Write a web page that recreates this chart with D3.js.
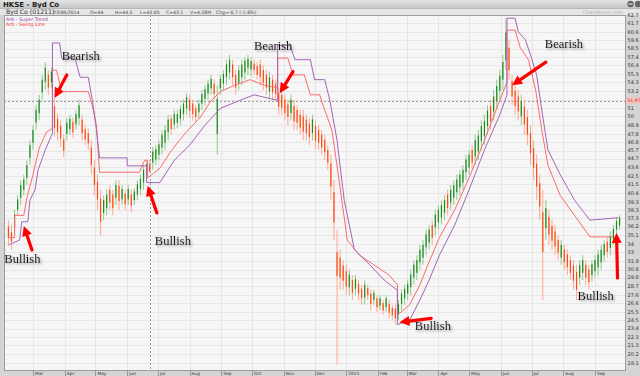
<!DOCTYPE html>
<html><head><meta charset="utf-8">
<script src="https://cdn.jsdelivr.net/npm/d3@7"></script>
<style>body{margin:0;background:#d6d6d6;} svg{display:block;font-family:"DejaVu Sans",Arial,sans-serif;}</style>
</head><body><svg id="c" width="640" height="376"></svg>
<script>
// ---------- DATA ----------
const barHigh = [37.0,36.4,38.3,40.1,42.0,42.7,44.5,47.0,48.9,51.4,52.7,55.2,56.8,55.8,56.1,52.3,50.4,49.5,47.7,49.8,50.2,49.8,50.8,52.1,50.2,48.9,48.5,47.0,44.5,42.7,40.8,40.1,40.8,41.4,40.8,42.0,42.0,41.4,40.8,41.4,40.8,41.0,42.0,42.7,43.9,44.5,44.5,46.2,46.4,47.0,48.3,48.9,50.2,50.2,50.8,50.8,51.4,52.1,52.9,52.7,52.1,51.4,52.1,53.3,53.9,54.6,55.2,54.6,53.9,55.2,55.8,57.1,57.7,57.1,55.8,56.4,57.1,57.4,57.7,57.4,57.1,56.8,57.1,56.4,55.8,55.6,55.2,54.6,53.6,53.3,52.7,52.1,52.7,52.1,51.4,50.8,50.8,50.2,49.8,50.2,49.5,48.9,48.3,47.7,46.4,45.2,42.0,35.8,33.3,32.0,31.4,30.8,30.1,30.1,29.5,28.9,29.5,28.9,28.3,28.3,27.6,27.6,27.0,27.6,27.0,26.4,26.4,27.0,28.3,28.9,29.5,30.8,32.0,32.6,33.9,34.5,35.8,36.4,37.0,38.3,38.9,39.5,40.1,40.8,41.4,42.0,42.7,43.3,43.9,45.2,45.8,46.4,47.7,48.3,49.5,50.2,51.4,52.1,53.3,54.6,55.8,57.7,62.3,59.6,55.2,53.9,53.3,52.7,52.1,50.8,48.9,47.0,45.2,42.7,40.8,39.5,38.3,37.0,36.4,35.1,34.5,33.9,33.3,32.6,32.0,31.4,32.0,32.6,32.0,31.4,32.0,32.6,33.3,33.9,34.5,34.8,35.6,36.4,37.4,37.6];
const barLow = [33.9,33.3,35.1,37.6,38.9,40.1,41.4,43.9,45.8,48.3,49.5,52.1,53.3,52.7,53.6,47.4,47.0,46.2,44.9,47.0,47.7,47.3,48.3,48.9,47.0,46.4,45.8,42.7,40.1,38.3,35.1,37.0,37.6,38.3,37.6,38.9,38.3,38.9,38.3,38.9,38.0,38.9,39.5,40.1,40.8,42.0,43.05,43.3,43.9,44.5,45.2,45.8,47.0,47.7,48.3,48.5,48.9,49.5,50.2,49.8,49.5,49.3,49.8,50.8,51.4,52.1,52.7,52.1,45.2,52.7,53.3,53.9,54.6,53.9,52.7,53.3,53.9,54.6,55.2,55.0,55.2,54.6,53.9,53.3,52.7,52.1,52.1,52.1,50.2,50.2,49.5,48.9,49.5,48.3,48.3,47.7,47.0,47.0,46.4,47.0,45.8,45.8,45.2,44.5,43.3,39.5,34.5,18.9,28.3,28.3,27.6,27.6,27.0,27.6,27.0,26.4,26.4,27.0,25.7,26.4,25.5,25.7,25.1,25.5,24.7,24.5,23.9,24.5,25.7,26.4,27.0,27.6,28.9,29.5,30.8,31.4,32.6,33.3,33.9,35.1,35.8,36.4,37.0,37.6,38.3,38.9,39.5,40.1,40.8,42.0,42.7,43.3,43.9,44.5,45.8,46.4,47.7,48.3,49.5,50.8,52.1,53.3,55.8,54.6,51.4,50.2,49.5,48.9,47.7,46.4,43.9,42.0,39.5,37.0,27.0,34.5,33.9,33.3,32.6,32.0,31.4,30.8,30.1,29.5,28.3,27.0,28.9,29.5,28.9,28.3,29.3,29.8,30.1,30.8,31.8,32.3,32.6,33.9,35.1,35.8];
const barOpen = [36.2,35.5,36.0,38.3,39.8,40.8,42.3,44.8,46.7,49.2,50.4,53.0,54.3,55.2,54.3,51.3,49.7,48.8,47.1,47.8,48.4,49.3,49.0,49.8,49.6,48.4,47.9,46.1,43.6,41.8,39.7,37.9,38.5,40.8,40.2,39.8,41.3,39.6,40.3,39.6,40.2,39.5,40.2,40.9,41.7,42.8,44.0,44.2,44.6,45.2,46.1,46.7,48.0,49.7,49.0,49.2,49.7,50.3,51.0,52.1,51.6,51.0,50.5,51.6,52.2,52.9,53.5,54.1,47.8,53.5,54.1,54.9,55.5,56.5,55.2,54.2,54.9,55.5,56.1,55.9,56.6,56.3,56.5,55.8,55.2,53.1,54.6,54.1,52.9,52.7,52.1,51.5,50.4,51.3,50.8,50.2,50.0,49.6,49.1,47.9,48.8,48.3,47.7,47.1,45.8,44.1,40.5,33.0,32.3,31.3,30.6,28.6,29.5,28.4,29.0,28.4,27.3,28.5,27.8,27.0,27.2,26.3,26.6,26.1,26.5,26.0,25.9,25.3,26.5,27.2,27.8,28.6,29.8,30.4,31.7,32.3,33.6,34.2,36.4,36.1,36.7,37.3,37.9,40.2,39.2,39.8,40.5,41.1,41.7,43.0,43.6,45.8,45.0,45.6,46.9,47.5,48.8,51.3,50.6,51.9,53.2,54.6,57.0,58.6,54.4,53.2,52.5,50.0,51.2,49.9,47.9,46.0,44.1,41.6,38.0,36.0,37.4,36.3,35.6,34.5,32.3,33.3,32.7,32.0,31.3,30.5,29.8,30.4,31.4,30.8,30.1,30.6,31.1,31.7,32.6,34.3,33.5,34.6,35.8,36.3];
const barClose = [34.8,34.3,37.7,39.6,41.4,42.1,43.9,46.4,48.3,50.8,52.1,54.6,56.1,53.6,55.6,48.5,48.0,47.2,45.7,49.2,49.7,48.0,50.3,51.4,47.9,47.1,46.6,43.9,41.4,39.6,36.8,39.5,40.2,39.2,38.5,41.4,39.4,40.9,39.0,40.9,38.8,40.6,41.5,42.2,43.3,44.0,43.1,45.6,45.9,46.5,47.7,48.3,49.6,48.4,50.3,50.3,50.9,51.6,52.4,50.7,50.3,49.9,51.6,52.8,53.4,54.1,54.7,52.8,52.2,54.7,55.3,56.5,57.1,54.9,53.6,55.8,56.5,57.0,57.2,56.9,55.8,55.2,54.9,54.2,53.6,54.9,53.0,52.8,51.2,51.1,50.4,49.9,52.1,49.4,49.2,48.6,48.1,47.9,47.4,49.6,46.9,46.7,46.1,45.5,44.2,41.2,36.7,30.0,29.8,29.4,28.7,30.2,27.9,29.6,27.8,27.2,28.9,27.6,26.5,27.9,26.1,27.2,25.7,27.2,25.4,25.1,24.7,26.5,27.8,28.4,29.0,30.2,31.4,32.0,33.3,33.9,35.2,35.8,34.8,37.7,38.3,38.9,39.5,38.5,40.8,41.4,42.1,42.7,43.3,44.6,45.2,44.2,47.0,47.6,48.8,49.4,50.7,49.4,52.5,53.8,55.1,56.8,60.5,55.8,52.5,51.3,50.6,51.9,49.0,47.7,45.4,43.5,41.2,38.7,33.0,38.5,35.2,34.4,33.7,32.9,33.9,31.7,31.1,30.4,29.4,28.3,31.4,32.0,29.8,29.2,31.5,32.0,32.7,33.3,34.0,33.0,35.0,35.9,36.9,37.3];

const stDates = ["2014-02-05","2014-02-16","2014-02-18","2014-02-24","2014-02-26","2014-03-03","2014-03-06","2014-03-13","2014-03-20","2014-03-20","2014-03-27","2014-03-29","2014-04-11","2014-04-16","2014-04-24","2014-04-28","2014-05-02","2014-05-05","2014-06-01","2014-06-01","2014-06-20","2014-06-20","2014-07-03","2014-07-17","2014-08-01","2014-08-16","2014-08-31","2014-09-19","2014-10-03","2014-10-26","2014-10-26","2014-11-07","2014-11-12","2014-11-27","2014-12-01","2014-12-11","2014-12-16","2014-12-23","2014-12-30","2015-01-09","2015-01-24","2015-02-07","2015-02-20","2015-02-20","2015-03-04","2015-03-14","2015-03-23","2015-04-02","2015-04-17","2015-05-01","2015-05-16","2015-05-31","2015-06-07","2015-06-07","2015-06-15","2015-06-18","2015-06-25","2015-06-30","2015-07-06","2015-07-11","2015-07-17","2015-07-29","2015-08-12","2015-08-27","2015-09-24"];
const stValues = [33.9,34.5,36.8,36.8,39.5,40.8,43.3,45.8,47.9,59.2,59.2,57.3,57.3,54.9,54.9,52.0,48.3,44.8,44.8,43.8,43.8,41.7,41.7,44.5,46.4,48.9,51.0,52.0,52.7,52.0,58.9,58.9,57.1,57.1,54.6,54.6,52.0,47.0,39.5,33.3,31.4,29.5,28.2,23.9,24.5,27.0,29.5,32.6,36.4,40.8,45.8,50.2,52.7,62.3,62.3,60.6,59.6,57.7,55.2,50.8,45.8,42.7,39.5,37.0,37.3];

const slDates = ["2014-02-05","2014-02-11","2014-02-11","2014-02-20","2014-02-23","2014-03-01","2014-03-07","2014-03-14","2014-03-20","2014-03-20","2014-03-24","2014-03-29","2014-04-24","2014-04-29","2014-05-02","2014-05-05","2014-06-13","2014-06-18","2014-06-21","2014-06-21","2014-07-03","2014-07-13","2014-07-22","2014-08-01","2014-08-11","2014-08-21","2014-08-31","2014-09-14","2014-09-29","2014-10-13","2014-10-26","2014-10-26","2014-11-05","2014-11-10","2014-11-21","2014-11-27","2014-12-06","2014-12-11","2014-12-18","2014-12-25","2015-01-02","2015-01-14","2015-01-28","2015-02-12","2015-02-20","2015-02-20","2015-03-04","2015-03-14","2015-03-23","2015-04-02","2015-04-17","2015-05-01","2015-05-16","2015-05-31","2015-06-07","2015-06-07","2015-06-15","2015-06-20","2015-06-28","2015-07-05","2015-07-11","2015-07-17","2015-07-29","2015-08-12","2015-08-27","2015-09-18"];
const slValues = [34.8,34.8,37.6,37.6,39.8,42.7,46.0,48.0,48.5,55.8,55.8,53.1,53.1,50.8,48.9,43.0,43.0,44.5,44.5,42.3,43.5,45.5,47.0,48.5,49.8,51.8,53.1,53.9,54.6,53.9,53.6,57.3,57.3,55.2,55.2,52.7,52.7,50.8,48.3,42.0,34.5,32.6,31.4,30.1,28.9,25.1,26.4,28.9,31.8,34.8,38.3,42.3,47.0,52.0,54.3,60.8,60.8,58.6,57.1,53.3,48.3,43.9,40.1,37.6,34.9,34.9];

const yTickValues = [19.1,20.2,21.3,22.3,23.4,24.5,25.5,26.6,27.6,28.7,29.8,30.8,31.9,33,34,35.1,36.2,37.3,38.3,39.3,40.4,41.5,42.5,43.6,44.7,45.7,46.8,47.8,48.9,50,51,52.1,53.2,54.3,55.3,56.4,57.4,58.5,59.6,60.6,61.7,62.7];
const monthNames = ["2015","Feb","Mar","Apr","May","Jun","Jul","Aug","Sep","Oct","Nov","Dec"];

const cursorDate = "2014-06-23";
const cursorPrice = 51.97;

const annoText = ["Bearish","Bullish","Bullish","Bearish","Bullish","Bearish","Bullish"];
const annoDates = ["2014-03-29","2014-02-01","2014-06-28","2014-10-03","2015-03-09","2015-07-14","2015-08-15"];
const annoPrices = [57.06,31.63,33.9,58.3,23.2,58.6,27.0];
const arrowFromDates = ["2014-04-03","2014-02-28","2014-06-30","2014-11-10","2015-03-25","2015-07-15","2015-09-23"];
const arrowFromPrices = [55.18,33.26,37.9,55.6,24.7,56.8,29.75];
const arrowToDates = ["2014-03-22","2014-02-20","2014-06-21","2014-10-28","2015-02-22","2015-06-12","2015-09-22"];
const arrowToPrices = [52.3,36.27,41.3,52.9,24.2,53.9,35.4];

// ---------- DRAW ----------
const parse = d3.timeParse("%Y-%m-%d");
const svg = d3.select("#c");
const W = 640, H = 376;
const plot = {l: 4, r: 626, t: 15, b: 371};

const x = d3.scaleTime().domain([new Date(2014,2,1), new Date(2015,8,1)]).range([33, 595]);
const y = d3.scaleLinear().domain([19.1, 62.7]).range([363, 15]);

const barDates = d3.timeDay.range(new Date(2014,1,5), new Date(2015,11,1), 3).slice(0, barHigh.length);

const defs = svg.append("defs");
const f = defs.append("filter").attr("id","sh").attr("x","-10%").attr("y","-30%").attr("width","130%").attr("height","170%");
f.append("feDropShadow").attr("dx",1.5).attr("dy",1.5).attr("stdDeviation",1).attr("flood-color","#777").attr("flood-opacity",0.75);
defs.append("clipPath").attr("id","clip").append("rect").attr("x",plot.l).attr("y",plot.t).attr("width",plot.r-plot.l).attr("height",plot.b-plot.t);
const g1 = defs.append("linearGradient").attr("id","tb").attr("x1",0).attr("y1",0).attr("x2",0).attr("y2",1);
g1.append("stop").attr("offset",0).attr("stop-color","#e4e4e4");
g1.append("stop").attr("offset",1).attr("stop-color","#c6c6c6");

// background frame
svg.append("rect").attr("width",W).attr("height",H).attr("fill","#d4d4d4");
// title bar
svg.append("rect").attr("x",0).attr("y",0).attr("width",W).attr("height",8).attr("fill","url(#tb)");
svg.append("text").attr("x",3).attr("y",6.6).attr("font-size",7).attr("font-weight","bold").attr("fill","#222").text("HKSE - Byd Co");
svg.append("circle").attr("cx",630.5).attr("cy",4).attr("r",3.2).attr("fill","#666");
svg.append("rect").attr("x",628.5).attr("y",3.4).attr("width",4).attr("height",1.2).attr("fill","#ddd");
svg.append("circle").attr("cx",638).attr("cy",4).attr("r",3.2).attr("fill","#666");
// info row
svg.append("rect").attr("x",0).attr("y",8).attr("width",W).attr("height",7).attr("fill","#e6e6e6");
svg.append("line").attr("x1",0).attr("x2",W).attr("y1",8.5).attr("y2",8.5).attr("stroke","#b8b8b8");
svg.append("text").attr("x",6).attr("y",14.3).attr("font-size",6.2).attr("fill","#333").text("Byd Co (01211)");
const info = [["23/06/2014",53],["O=44",90],["H=44.5",115],["L=43.05",140],["C=43.1",166],["V=4.28M",190],["Chg=-0.7 (-1.6%)",216]];
svg.selectAll("text.info").data(info).join("text").attr("class","info")
  .attr("x",d=>d[1]).attr("y",14).attr("font-size",4.6).attr("fill","#444").text(d=>d[0]);
svg.append("text").attr("x",583).attr("y",13.8).attr("font-size",4.8).attr("fill","#b0b0b0").text("ChartNexus.com");

// plot area
svg.append("rect").attr("x",plot.l).attr("y",plot.t).attr("width",plot.r-plot.l).attr("height",plot.b-plot.t).attr("fill","#f6f6f6");
const grid = svg.append("g");
grid.selectAll("line.h").data(yTickValues).join("line").attr("class","h")
  .attr("x1",plot.l).attr("x2",plot.r).attr("y1",d=>Math.round(y(d))+0.5).attr("y2",d=>Math.round(y(d))+0.5)
  .attr("stroke","#e6e6e6").attr("stroke-width",1);
const months = d3.timeMonth.range(new Date(2014,2,1), new Date(2015,9,1));
grid.selectAll("line.v").data(months).join("line").attr("class","v")
  .attr("x1",d=>Math.round(x(d))+0.5).attr("x2",d=>Math.round(x(d))+0.5).attr("y1",plot.t).attr("y2",plot.b)
  .attr("stroke","#e6e6e6").attr("stroke-width",1);

// crosshair
svg.append("line").attr("x1",Math.round(x(parse(cursorDate)))+0.5).attr("x2",Math.round(x(parse(cursorDate)))+0.5)
  .attr("y1",plot.t).attr("y2",plot.b).attr("stroke","#9a9a9a").attr("stroke-dasharray","2,2");
svg.append("line").attr("x1",plot.l).attr("x2",plot.r).attr("y1",Math.round(y(cursorPrice))+0.5).attr("y2",Math.round(y(cursorPrice))+0.5)
  .attr("stroke","#9a9a9a").attr("stroke-dasharray","2,2");

// bars
const bars = svg.append("g").attr("clip-path","url(#clip)");
const barData = barDates.map((d,i)=>({d, h:barHigh[i], l:barLow[i], o:barOpen[i], c:barClose[i]}));
bars.selectAll("line.w").data(barData).join("line").attr("class","w")
  .attr("x1",d=>x(d.d)).attr("x2",d=>x(d.d)).attr("y1",d=>y(d.h)).attr("y2",d=>y(d.l))
  .attr("stroke",d=>d.c>=d.o?"#8fca8f":"#ffa88f").attr("stroke-width",1);
bars.selectAll("rect.b").data(barData).join("rect").attr("class","b")
  .attr("x",d=>x(d.d)-0.6).attr("width",1.2)
  .attr("y",d=>y(Math.max(d.o,d.c))).attr("height",d=>Math.max(1,Math.abs(y(d.o)-y(d.c))))
  .attr("fill",d=>d.c>=d.o?"#1d8a1d":"#ff4a12");

// lines
const lineGen = d3.line().x(d=>x(d[0])).y(d=>y(d[1]));
svg.append("path").attr("clip-path","url(#clip)")
  .attr("d", lineGen(slDates.map((d,i)=>[parse(d), slValues[i]])))
  .attr("fill","none").attr("stroke","#ff6a6a").attr("stroke-width",1);
svg.append("path").attr("clip-path","url(#clip)")
  .attr("d", lineGen(stDates.map((d,i)=>[parse(d), stValues[i]])))
  .attr("fill","none").attr("stroke","#a365b5").attr("stroke-width",1);

// legend
svg.append("text").attr("x",6).attr("y",20.5).attr("font-size",4.8).attr("fill","#8a3ea0").text("Arb - Super Trend");
svg.append("text").attr("x",6).attr("y",26.3).attr("font-size",4.8).attr("fill","#ff3030").text("Arb - Swing Line");

// plot border
svg.append("rect").attr("x",plot.l+0.5).attr("y",plot.t+0.5).attr("width",plot.r-plot.l-1).attr("height",plot.b-plot.t-1)
  .attr("fill","none").attr("stroke","#9c9c9c");

// right axis labels (the one under the cursor label is hidden, as in the reference)
const ax = svg.append("g");
ax.selectAll("text").data(yTickValues.filter(v=>Math.abs(y(v)-y(cursorPrice))>4)).join("text")
  .attr("x",627.5).attr("y",d=>y(d)+1.8).attr("font-size",5).attr("fill","#333").text(d=>d);
svg.append("rect").attr("x",626.5).attr("y",y(cursorPrice)-3.5).attr("width",13.5).attr("height",7).attr("fill","#f6c3c3");
svg.append("text").attr("x",627.3).attr("y",y(cursorPrice)+1.8).attr("font-size",4.6).attr("fill","#d02020").text(cursorPrice);

// bottom axis
const bx = svg.append("g");
bx.selectAll("line").data(months).join("line")
  .attr("x1",d=>Math.round(x(d))+0.5).attr("x2",d=>Math.round(x(d))+0.5).attr("y1",plot.b).attr("y2",H)
  .attr("stroke","#999");
bx.selectAll("text").data(months).join("text")
  .attr("x",d=>x(d)+2).attr("y",375.2).attr("font-size",4.3).attr("fill","#333")
  .text(d=>monthNames[d.getMonth()]);

// annotations
const an = svg.append("g");
an.selectAll("text").data(annoText).join("text")
  .attr("x",(d,i)=>x(parse(annoDates[i]))).attr("y",(d,i)=>y(annoPrices[i]))
  .attr("font-family","'Liberation Serif','Times New Roman',serif").attr("font-size",12.5)
  .attr("fill","#111").attr("filter","url(#sh)").text(d=>d);
arrowFromDates.forEach((fd,i)=>{
  const x1 = x(parse(fd)), y1 = y(arrowFromPrices[i]);
  const x2 = x(parse(arrowToDates[i])), y2 = y(arrowToPrices[i]);
  const ang = Math.atan2(y2-y1, x2-x1);
  const hl = 10, hw = 5;
  const bx2 = x2 - hl*Math.cos(ang), by2 = y2 - hl*Math.sin(ang);
  an.append("line").attr("x1",x1).attr("y1",y1).attr("x2",bx2).attr("y2",by2)
    .attr("stroke","#ff0000").attr("stroke-width",3.2).attr("stroke-linecap","round");
  const px = -Math.sin(ang), py = Math.cos(ang);
  an.append("path").attr("d",`M${x2},${y2}L${bx2+hw*px},${by2+hw*py}L${bx2-hw*px},${by2-hw*py}Z`)
    .attr("fill","#ff0000");
});
</script></body></html>
